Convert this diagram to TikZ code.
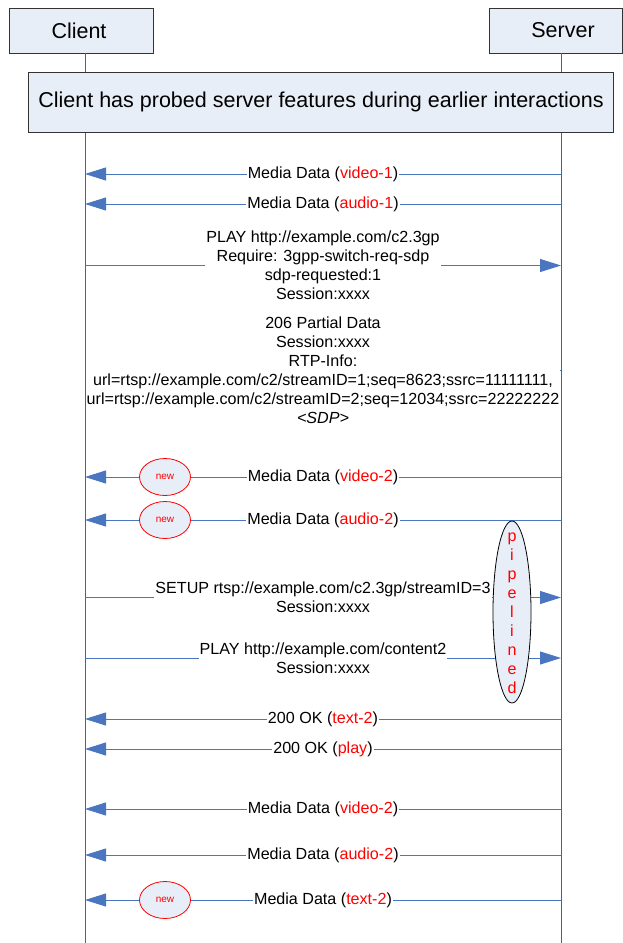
\documentclass[tikz,border=0pt]{standalone}
\usepackage{fontspec}
\setmainfont{Liberation Sans}
\usetikzlibrary{arrows.meta,shapes.geometric}
\definecolor{boxfill}{HTML}{E8EEF7}
\definecolor{msgblue}{HTML}{4A76C0}
\definecolor{linegray}{HTML}{606060}
\newcommand{\rt}[1]{\textcolor{red}{#1}}
\tikzset{
  actor/.style={draw=black!80, fill=boxfill, line width=0.8pt},
  life/.style={draw=linegray, line width=1pt},
  msg/.style={draw=msgblue, line width=1pt, -{Triangle[length=21pt,width=13pt]}},
  lbl/.style={fill=white, inner xsep=1pt, inner ysep=0pt, align=center, font=\fontsize{16.1}{19}\selectfont},
  newell/.style={ellipse, draw=red, fill=boxfill, line width=0.8pt, minimum width=51pt, minimum height=37pt, inner sep=0pt, text=red, font=\fontsize{10}{12}\selectfont},
  pipe/.style={ellipse, draw=black, fill=boxfill, line width=0.8pt, minimum width=38pt, minimum height=182pt, inner sep=0pt}
}
\begin{document}
\begin{tikzpicture}[x=1pt,y=-1pt]
\useasboundingbox (0,0) rectangle (623,943);
% actors
\draw[actor] (9,8) rectangle (153,53);
\node[font=\fontsize{21.5}{24}\selectfont] (client) at (79,30.5) {Client};
\draw[actor] (489,8) rectangle (622,53);
\node[font=\fontsize{21.5}{24}\selectfont] (server) at (563,30.5) {Server};
% lifelines
\coordinate (cl0) at (85,53); \coordinate (cl1) at (85,72);
\coordinate (cl2) at (85,132); \coordinate (cl3) at (85,943);
\coordinate (sl0) at (561,53); \coordinate (sl1) at (561,72);
\coordinate (sl2) at (561,132); \coordinate (sl3) at (561,943);
\draw[life] (cl0) -- (cl1); \draw[life] (cl2) -- (cl3);
\draw[life] (sl0) -- (sl1); \draw[life] (sl2) -- (sl3);
% note
\draw[actor] (28,72) rectangle (613,132);
\node[font=\fontsize{21.5}{24}\selectfont] (note) at (321,102) {Client has probed server features during earlier interactions};
% messages
\foreach \n/\y in {a/174,b/204,c/265.5,d/370,e/477,f/520,g/597.5,h/658,i/719,j/749,k/809,l/855,m/900}{
  \coordinate (c\n) at (85,\y); \coordinate (s\n) at (561,\y);
}
\draw[msg] (sa) -- node[lbl]{Media Data (\rt{video-1})} (ca);
\draw[msg] (sb) -- node[lbl]{Media Data (\rt{audio-1})} (cb);
\draw[msg] (cc) -- node[lbl, minimum width=235pt]{PLAY http://example.com/c2.3gp\\Require: 3gpp-switch-req-sdp\\sdp-requested:1\\Session:xxxx} (sc);
\draw[msg] (sd) -- node[lbl]{206 Partial Data\\Session:xxxx\\RTP-Info:\\url=rtsp://example.com/c2/streamID=1;seq=8623;ssrc=11111111,\\url=rtsp://example.com/c2/streamID=2;seq=12034;ssrc=22222222\\\textit{<SDP>}} (cd);
\draw[msg] (se) -- node[lbl]{Media Data (\rt{video-2})} (ce);
\draw[msg] (sf) -- node[lbl]{Media Data (\rt{audio-2})} (cf);
\draw[msg] (cg) -- node[lbl]{SETUP rtsp://example.com/c2.3gp/streamID=3\\Session:xxxx} (sg);
\draw[msg] (ch) -- node[lbl]{PLAY http://example.com/content2\\Session:xxxx} (sh);
\draw[msg] (si) -- node[lbl]{200 OK (\rt{text-2})} (ci);
\draw[msg] (sj) -- node[lbl]{200 OK (\rt{play})} (cj);
\draw[msg] (sk) -- node[lbl]{Media Data (\rt{video-2})} (ck);
\draw[msg] (sl) -- node[lbl]{Media Data (\rt{audio-2})} (cl);
\draw[msg] (sm) -- node[lbl]{Media Data (\rt{text-2})} (cm);
% new markers
\node[newell] (new1) at (165,477) {new};
\node[newell] (new2) at (165,520) {new};
\node[newell] (new3) at (165,900) {new};
% pipelined
\node[pipe] (pipe) at (512,612) {};
\node[align=center, text=red, inner sep=0pt, font=\fontsize{16.1}{19}\selectfont] (pipetxt) at (512,613) {p\\i\\p\\e\\l\\i\\n\\e\\d};
\end{tikzpicture}
\end{document}
